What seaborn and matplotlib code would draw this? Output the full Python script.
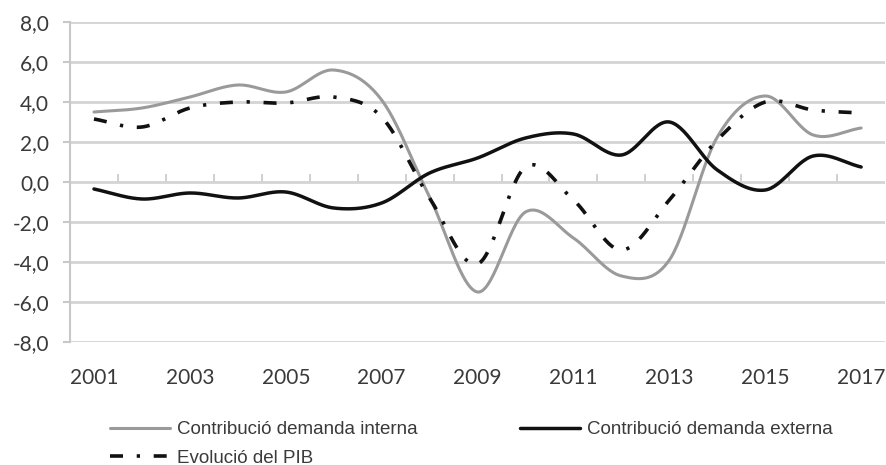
import numpy as np
import pandas as pd
import matplotlib
matplotlib.use("Agg")
import matplotlib.pyplot as plt
import seaborn as sns

years = list(range(2001, 2018))
interna = [3.5, 3.7, 4.25, 4.85, 4.5, 5.6, 4.1, -0.75, -5.5, -1.5, -2.8, -4.7, -3.9, 2.25, 4.3, 2.35, 2.7]
externa = [-0.35, -0.85, -0.55, -0.8, -0.5, -1.3, -1.05, 0.45, 1.2, 2.2, 2.4, 1.35, 3.0, 0.6, -0.4, 1.3, 0.75]
pib = [3.15, 2.75, 3.7, 4.0, 3.95, 4.25, 3.25, -0.8, -4.1, 0.75, -0.9, -3.4, -0.9, 2.1, 4.0, 3.6, 3.45]
series_names = ["Contribució demanda interna", "Contribució demanda externa", "Evolució del PIB"]
ytick_vals = [-8, -6, -4, -2, 0, 2, 4, 6, 8]
xtick_labels = [str(y) for y in years[::2]]

sns.set_theme(style="white")
plt.rcParams['font.family'] = ['Lato', 'DejaVu Sans']


def smooth(xs, ys, n=30):
    # Bezier spline through the data points (Excel-like smoothed line)
    xs = np.asarray(xs, float); ys = np.asarray(ys, float)
    P = np.column_stack([xs, ys])
    P = np.vstack([2 * P[0] - P[1], P, 2 * P[-1] - P[-2]])
    out = []
    t = np.linspace(0, 1, n, endpoint=False)[:, None]
    for i in range(1, len(P) - 2):
        p0, p1, p2, p3 = P[i - 1], P[i], P[i + 1], P[i + 2]
        b1 = p1 + (p2 - p0) / 6
        b2 = p2 - (p3 - p1) / 6
        seg = ((1 - t) ** 3) * p1 + 3 * ((1 - t) ** 2) * t * b1 + 3 * (1 - t) * t ** 2 * b2 + t ** 3 * p2
        out.append(seg)
    out.append(P[-2][None, :])
    arr = np.vstack(out)
    return arr[:, 0], arr[:, 1]


fig = plt.figure(figsize=(8.86, 4.65), dpi=100)
ax = fig.add_axes([70 / 886, 1 - 342 / 465, 1 - 70 / 886 - 0.001, 320 / 465])

idx = np.arange(len(years))
frames = []
for name, vals in zip(series_names, [interna, externa, pib]):
    sx, sy = smooth(idx, vals)
    frames.append(pd.DataFrame({"x": sx, "y": sy, "serie": name}))
df = pd.concat(frames, ignore_index=True)

styles = {
    series_names[0]: dict(color="#9a9a9a", lw=2.2, ls="-"),
    series_names[1]: dict(color="#111111", lw=2.5, ls="-"),
    series_names[2]: dict(color="#111111", lw=2.6, ls=(0, (3.6, 3.8, 0.9, 3.8))),
}
for name in series_names:
    st = styles[name]
    sns.lineplot(data=df[df.serie == name], x="x", y="y", ax=ax, color=st["color"],
                 linewidth=st["lw"], linestyle=st["ls"], sort=False, estimator=None,
                 label=name, legend=False)

ax.set_xlim(-0.5, len(years) - 0.5)
ax.set_ylim(-8, 8)
ax.set_yticks(ytick_vals)
ax.set_yticklabels([f"{v:.1f}".replace(".", ",") for v in ytick_vals])
ax.set_xticks(idx[::2])
ax.set_xticklabels(xtick_labels)
ax.grid(axis="y", color="#d4d4d4", linewidth=2)
ax.set_axisbelow(True)
for s in ["top", "right", "bottom"]:
    ax.spines[s].set_visible(False)
ax.spines["left"].set_color("#c8c8c8")
ax.spines["left"].set_linewidth(1.5)
ax.tick_params(axis="x", length=0, pad=19, labelsize=15, labelcolor="#3a3a3a")
ax.tick_params(axis="y", length=5, width=1.5, color="#c8c8c8", pad=10, labelsize=15,
               labelcolor="#3a3a3a", left=True)
ax.set_xlabel(""); ax.set_ylabel("")

sec = ax.secondary_xaxis(0.5)
sec.set_xticks(np.arange(0.5, len(years) - 1, 1.0))
sec.set_xticklabels([])
sec.tick_params(length=6, width=1.2, color="#c8c8c8", direction="out")
sec.spines["bottom"].set_visible(False)
sec.spines["top"].set_visible(False)

h, l = ax.get_legend_handles_labels()
order = [0, 2, 1]
leg = fig.legend([h[i] for i in order], [l[i] for i in order], ncol=2, frameon=False,
                 loc="upper left", bbox_to_anchor=(110 / 886, 1 - 421 / 465),
                 prop={'family': ['Liberation Sans', 'DejaVu Sans'], 'size': 13.5},
                 handlelength=3.2, handletextpad=0.35, columnspacing=5.5,
                 labelspacing=0.6, borderaxespad=0, borderpad=0)
for t in leg.get_texts():
    t.set_color("#3a3a3a")

fig.savefig("out.png", dpi=100)
